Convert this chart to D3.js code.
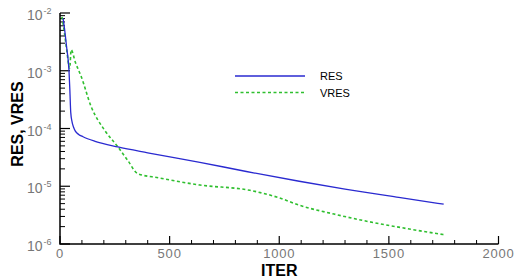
<!DOCTYPE html>
<html>
<head>
<meta charset="utf-8">
<script src="https://cdn.jsdelivr.net/npm/d3@7"></script>
<style>
  body { margin: 0; background: #fff; }
  text { font-family: "Liberation Sans", Arial, sans-serif; }
</style>
</head>
<body>
<div id="chart"></div>
<script>
  var margin = { top: 13, right: 18, bottom: 34, left: 60 },
      width = 516,
      height = 278;

  // RES (solid blue) and VRES (dashed green)
  var resIter = [14, 20, 30, 41, 45, 49, 55, 62, 70, 85, 105, 160, 264, 400, 638, 850, 1091, 1300, 1545, 1750];
  var resVal  = [8.1e-3, 5.6e-3, 2.6e-3, 1.0e-3, 4.6e-4, 1.9e-4, 1.3e-4, 1.05e-4, 9.0e-5, 7.9e-5, 7.2e-5, 6.0e-5, 4.8e-5, 3.8e-5, 2.6e-5, 1.8e-5, 1.22e-5, 8.9e-6, 6.4e-6, 4.9e-6];
  var vresIter = [9, 20, 30, 44, 51, 70, 97, 142, 203, 264, 309, 355, 450, 638, 866, 1000, 1091, 1250, 1394, 1600, 1750];
  var vresVal  = [8.6e-3, 4.6e-3, 2.4e-3, 1.1e-3, 2.3e-3, 1.4e-3, 7.9e-4, 2.4e-4, 9.4e-5, 4.8e-5, 2.8e-5, 1.65e-5, 1.4e-5, 1.05e-5, 8.5e-6, 6.3e-6, 4.7e-6, 3.3e-6, 2.5e-6, 1.8e-6, 1.45e-6];
  var xTicks = [0, 500, 1000, 1500, 2000];
  var yTicks = [-6, -5, -4, -3, -2];
  var seriesNames = ["RES", "VRES"];

  var svg = d3.select("#chart").append("svg")
      .attr("width", width)
      .attr("height", height);

  var x = d3.scaleLinear().domain([0, 2000]).range([margin.left, 498.5]);
  var y = d3.scaleLog().domain([1e-6, 1e-2]).range([244, margin.top]);

  // minor ticks
  var xMinor = d3.range(0, 2001, 100).filter(function(d) { return xTicks.indexOf(d) < 0; });
  var yMinor = [];
  yTicks.slice(0, -1).forEach(function(e) {
    for (var k = 2; k <= 9; k++) yMinor.push(k * Math.pow(10, e));
  });

  svg.selectAll(".xminor").data(xMinor).enter().append("line")
      .attr("x1", function(d) { return x(d); }).attr("x2", function(d) { return x(d); })
      .attr("y1", 244).attr("y2", 240)
      .attr("stroke", "#000").attr("stroke-width", 1);
  svg.selectAll(".xmajor").data(xTicks).enter().append("line")
      .attr("x1", function(d) { return x(d); }).attr("x2", function(d) { return x(d); })
      .attr("y1", 244).attr("y2", 236)
      .attr("stroke", "#000").attr("stroke-width", 1.2);
  svg.selectAll(".yminor").data(yMinor).enter().append("line")
      .attr("x1", margin.left).attr("x2", margin.left + 5)
      .attr("y1", function(d) { return y(d); }).attr("y2", function(d) { return y(d); })
      .attr("stroke", "#000").attr("stroke-width", 1);
  svg.selectAll(".ymajor").data(yTicks).enter().append("line")
      .attr("x1", margin.left).attr("x2", margin.left + 10)
      .attr("y1", function(d) { return y(Math.pow(10, d)); }).attr("y2", function(d) { return y(Math.pow(10, d)); })
      .attr("stroke", "#000").attr("stroke-width", 1.2);

  // axis lines
  svg.append("path")
      .attr("d", "M" + margin.left + "," + y(1e-2) + "V244H" + x(2000))
      .attr("fill", "none").attr("stroke", "#000").attr("stroke-width", 1.5);

  // tick labels
  svg.selectAll(".xlab").data(xTicks).enter().append("text")
      .attr("x", function(d) { return x(d); })
      .attr("y", 258)
      .attr("text-anchor", "middle")
      .style("font-size", "13px").style("fill", "#777").style("letter-spacing", "0.8px")
      .text(function(d) { return d; });

  var ylab = svg.selectAll(".ylab").data(yTicks).enter().append("text")
      .attr("x", 27)
      .attr("y", function(d) { return y(Math.pow(10, d)) + 7; })
      .style("font-size", "14px").style("fill", "#777");
  ylab.append("tspan").text("10");
  ylab.append("tspan").attr("dy", -6).attr("dx", 1).style("font-size", "9px")
      .text(function(d) { return d; });

  // axis titles
  svg.append("text")
      .attr("x", x(1000)).attr("y", 276)
      .attr("text-anchor", "middle")
      .style("font-size", "16px").style("font-weight", "bold")
      .text("ITER");
  svg.append("text")
      .attr("transform", "translate(23,124) rotate(-90)")
      .attr("text-anchor", "middle")
      .style("font-size", "16px").style("font-weight", "bold")
      .text("RES, VRES");

  // lines
  var line = d3.line()
      .x(function(d) { return x(d[0]); })
      .y(function(d) { return y(d[1]); })
      .curve(d3.curveMonotoneX);

  svg.append("path")
      .datum(d3.zip(vresIter, vresVal))
      .attr("d", line)
      .attr("fill", "none").attr("stroke", "#2fbf2f").attr("stroke-width", 1.6)
      .attr("stroke-dasharray", "3,2.5");
  svg.append("path")
      .datum(d3.zip(resIter, resVal))
      .attr("d", line)
      .attr("fill", "none").attr("stroke", "#2a2ad0").attr("stroke-width", 1.3);

  // legend
  var legend = svg.selectAll(".legend").data(seriesNames).enter().append("g")
      .attr("transform", function(d, i) { return "translate(235," + (76 + i * 16.5) + ")"; });
  legend.append("line")
      .attr("x1", 0).attr("x2", 70).attr("y1", 0).attr("y2", 0)
      .attr("stroke", function(d, i) { return i == 0 ? "#2a2ad0" : "#2fbf2f"; })
      .attr("stroke-width", function(d, i) { return i == 0 ? 1.3 : 1.6; })
      .attr("stroke-dasharray", function(d, i) { return i == 0 ? null : "3,2.5"; });
  legend.append("text")
      .attr("x", 85).attr("y", 4)
      .style("font-size", "11px")
      .text(function(d) { return d; });
</script>
</body>
</html>
